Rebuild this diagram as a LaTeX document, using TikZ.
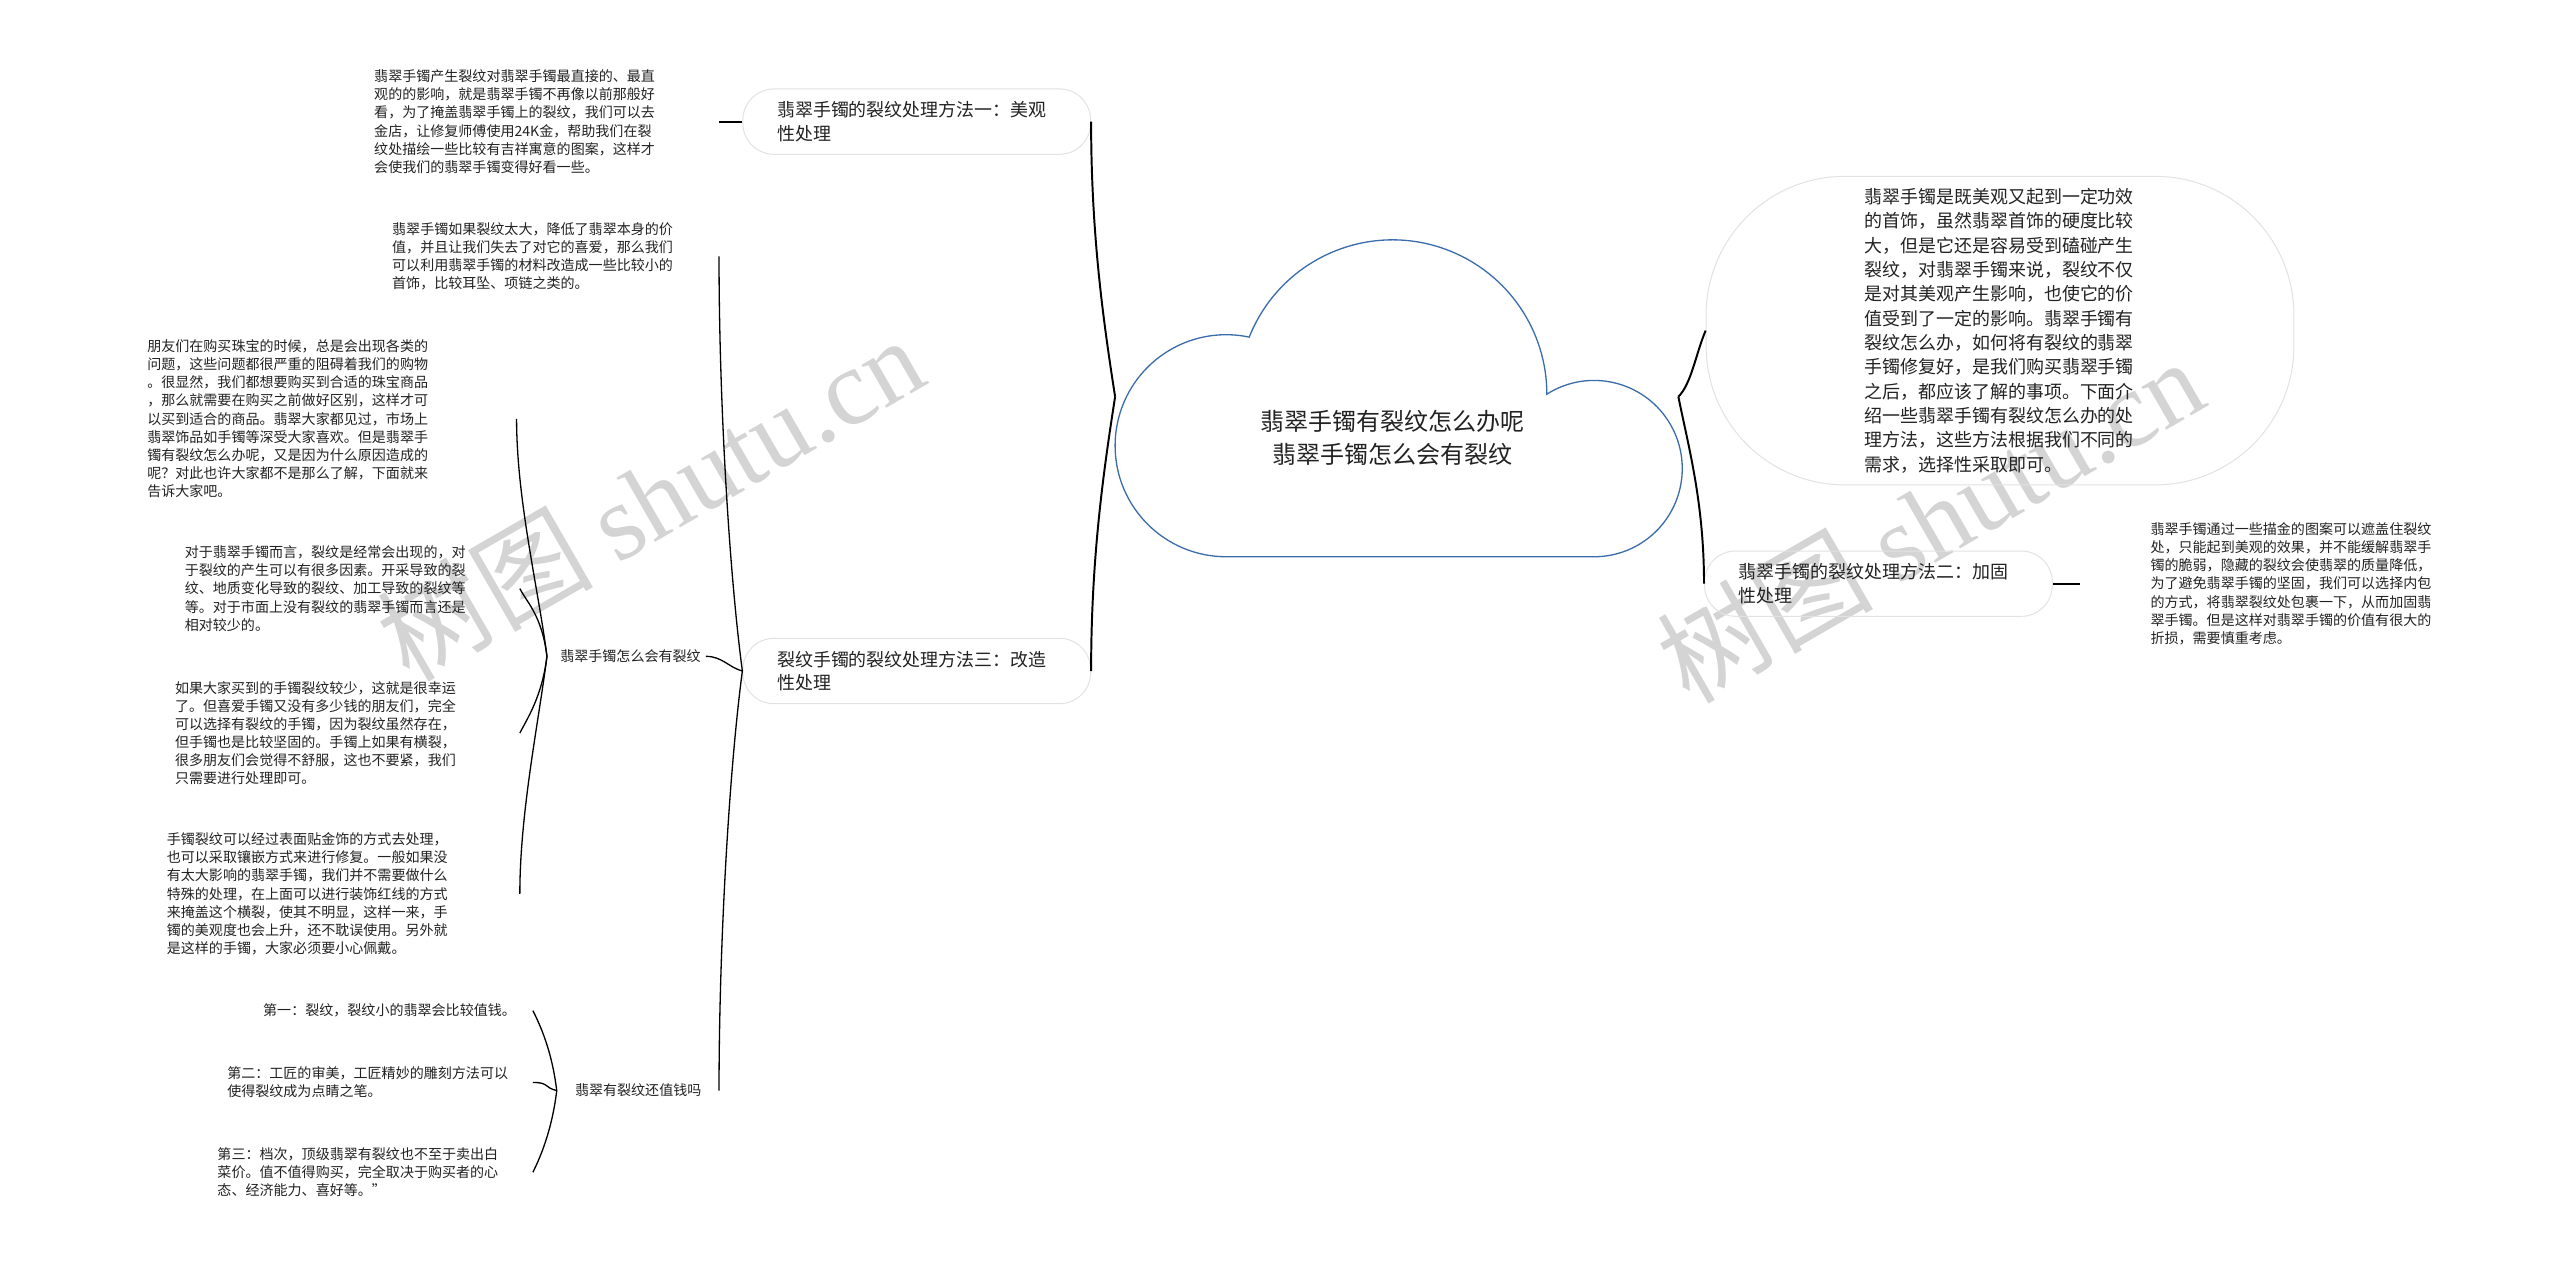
\documentclass[tikz,border=0pt]{standalone}
\usepackage{fontspec}
\setmainfont{Noto Sans CJK SC}
\newfontfamily\wmfont{Liberation Serif}
\usetikzlibrary{calc}
\definecolor{cloudblue}{HTML}{3B6DAA}
\definecolor{boxgray}{HTML}{E2E2E2}
\definecolor{txt}{HTML}{222222}
\definecolor{wm}{HTML}{D4D4D4}
\begin{document}
\begin{tikzpicture}[x=1pt,y=-1pt,
  leaf/.style={inner sep=0pt, anchor=west, align=left, text=txt, font=\fontsize{8.6}{11.1}\selectfont},
  meth/.style={draw=boxgray, line width=0.6pt, rounded corners=19pt, minimum width=213pt, minimum height=40pt, inner xsep=21pt, inner ysep=0pt, text width=171pt, align=left, text=txt, font=\fontsize{11}{14.2}\selectfont},
  link/.style={line width=0.8pt, draw=black},
  mainlink/.style={line width=1.2pt, draw=black},
  cloudline/.style={draw=cloudblue, line width=0.8pt, fill=white},
  watermark/.style={rotate=30, text=wm, inner sep=0pt}
]
\useasboundingbox (0,0) rectangle (1568,775);
\fill[white] (0,0) rectangle (1568,775);

% watermarks
\node[watermark] (wm1) at (398,305) {\fontsize{66}{66}\selectfont 树图 {\wmfont shutu.cn}};
\node[watermark] (wm2) at (1182,318) {\fontsize{66}{66}\selectfont 树图 {\wmfont shutu.cn}};

% root cloud
\draw[cloudline] (751,341) arc[start angle=90, end angle=282, radius=68]
  arc[start angle=201.7, end angle=360, radius=94.5]
  arc[start angle=237.6, end angle=450, radius=54] -- cycle;
\node[font=\fontsize{14.7}{20}\selectfont, align=center, text=txt] (root) at (853,268) {翡翠手镯有裂纹怎么办呢\\翡翠手镯怎么会有裂纹};
\coordinate (rootL) at ($(root)+(-170,-25)$);
\coordinate (rootR) at ($(root)+(175,-25)$);

% level 1
\node[meth] (m1) at (561.5,74.5) {翡翠手镯的裂纹处理方法一：美观\\性处理};
\node[meth] (m3) at (561.5,411) {裂纹手镯的裂纹处理方法三：改造\\性处理};
\node[meth] (m2) at (1150.5,357.5) {翡翠手镯的裂纹处理方法二：加固\\性处理};
\node[draw=boxgray, line width=0.6pt, rounded corners=85pt, minimum width=360pt, minimum height=189pt, text width=166pt, align=left, inner sep=0pt, font=\fontsize{11}{14.9}\selectfont, text=txt] (intro) at (1225,202.5) {翡翠手镯是既美观又起到一定功效\\的首饰，虽然翡翠首饰的硬度比较\\大，但是它还是容易受到磕碰产生\\裂纹，对翡翠手镯来说，裂纹不仅\\是对其美观产生影响，也使它的价\\值受到了一定的影响。翡翠手镯有\\裂纹怎么办，如何将有裂纹的翡翠\\手镯修复好，是我们购买翡翠手镯\\之后，都应该了解的事项。下面介\\绍一些翡翠手镯有裂纹怎么办的处\\理方法，这些方法根据我们不同的\\需求，选择性采取即可。};

% leaves
\node[leaf, text width=211pt] (A) at (229,74.5) {翡翠手镯产生裂纹对翡翠手镯最直接的、最直\\观的的影响，就是翡翠手镯不再像以前那般好\\看，为了掩盖翡翠手镯上的裂纹，我们可以去\\金店，让修复师傅使用24K金，帮助我们在裂\\纹处描绘一些比较有吉祥寓意的图案，这样才\\会使我们的翡翠手镯变得好看一些。};
\node[leaf, text width=200pt] (B) at (240,157) {翡翠手镯如果裂纹太大，降低了翡翠本身的价\\值，并且让我们失去了对它的喜爱，那么我们\\可以利用翡翠手镯的材料改造成一些比较小的\\首饰，比较耳坠、项链之类的。};
\node[leaf, text width=89pt] (C) at (343,402) {翡翠手镯怎么会有裂纹};
\node[leaf, text width=88pt] (D) at (352,668) {翡翠有裂纹还值钱吗};
\coordinate (Ctip) at ($(C.west)+(-8,0)$);
\coordinate (Dtip) at ($(D.west)+(-11,0)$);

\node[leaf, text width=226pt] (E) at (90,256.5) {朋友们在购买珠宝的时候，总是会出现各类的\\问题，这些问题都很严重的阻碍着我们的购物\\。很显然，我们都想要购买到合适的珠宝商品\\，那么就需要在购买之前做好区别，这样才可\\以买到适合的商品。翡翠大家都见过，市场上\\翡翠饰品如手镯等深受大家喜欢。但是翡翠手\\镯有裂纹怎么办呢，又是因为什么原因造成的\\呢？对此也许大家都不是那么了解，下面就来\\告诉大家吧。};
\node[leaf, text width=205pt] (F) at (113,360.5) {对于翡翠手镯而言，裂纹是经常会出现的，对\\于裂纹的产生可以有很多因素。开采导致的裂\\纹、地质变化导致的裂纹、加工导致的裂纹等\\等。对于市面上没有裂纹的翡翠手镯而言还是\\相对较少的。};
\node[leaf, text width=211pt] (G) at (107,449) {如果大家买到的手镯裂纹较少，这就是很幸运\\了。但喜爱手镯又没有多少钱的朋友们，完全\\可以选择有裂纹的手镯，因为裂纹虽然存在，\\但手镯也是比较坚固的。手镯上如果有横裂，\\很多朋友们会觉得不舒服，这也不要紧，我们\\只需要进行处理即可。};
\node[leaf, text width=216pt] (H) at (102,547.5) {手镯裂纹可以经过表面贴金饰的方式去处理，\\也可以采取镶嵌方式来进行修复。一般如果没\\有太大影响的翡翠手镯，我们并不需要做什么\\特殊的处理，在上面可以进行装饰红线的方式\\来掩盖这个横裂，使其不明显，这样一来，手\\镯的美观度也会上升，还不耽误使用。另外就\\是这样的手镯，大家必须要小心佩戴。};
\node[leaf, text width=165pt] (I) at (161,619) {第一：裂纹，裂纹小的翡翠会比较值钱。};
\node[leaf, text width=187pt] (J) at (139,663) {第二：工匠的审美，工匠精妙的雕刻方法可以\\使得裂纹成为点睛之笔。};
\node[leaf, text width=193pt] (K) at (133,718) {第三：档次，顶级翡翠有裂纹也不至于卖出白\\菜价。值不值得购买，完全取决于购买者的心\\态、经济能力、喜好等。"};
\node[leaf, text width=175pt] (L) at (1317,357.5) {翡翠手镯通过一些描金的图案可以遮盖住裂纹\\处，只能起到美观的效果，并不能缓解翡翠手\\镯的脆弱，隐藏的裂纹会使翡翠的质量降低，\\为了避免翡翠手镯的坚固，我们可以选择内包\\的方式，将翡翠裂纹处包裹一下，从而加固翡\\翠手镯。但是这样对翡翠手镯的价值有很大的\\折损，需要慎重考虑。};
\coordinate (Lin) at ($(L.west)+(-43,0)$);

% connectors
\draw[mainlink] (rootL) .. controls +(-7,-45) and +(0,70) .. (m1.east);
\draw[mainlink] (rootL) .. controls +(-7,45) and +(0,-70) .. (m3.east);
\draw[mainlink] (rootR) .. controls +(8,-8) and +(-6,14) .. (intro.west);
\draw[mainlink] (rootR) .. controls +(6,30) and +(0,-50) .. (m2.west);
\draw[mainlink] (m1.west) -- (A.east);
\draw[mainlink] (m2.east) -- (Lin);

\draw[link] (m3.west) .. controls +(-8,-60) and +(0,90) .. (B.east);
\draw[link] (m3.west) .. controls +(-8,-2) and +(10,0) .. (C.east);
\draw[link] (m3.west) .. controls +(-8,60) and +(0,-90) .. (D.east);

\draw[link] (Ctip) .. controls +(-5,-40) and +(0,50) .. (E.east);
\draw[link] (Ctip) .. controls +(-3,-25) and +(4,8) .. (F.east);
\draw[link] (Ctip) .. controls +(-3,25) and +(4,-8) .. (G.east);
\draw[link] (Ctip) .. controls +(-5,40) and +(0,-50) .. (H.east);

\draw[link] (Dtip) .. controls +(-3,-25) and +(4,8) .. (I.east);
\draw[link] (Dtip) .. controls +(-8,-2) and +(10,0) .. (J.east);
\draw[link] (Dtip) .. controls +(-3,25) and +(4,-8) .. (K.east);
\end{tikzpicture}
\end{document}
